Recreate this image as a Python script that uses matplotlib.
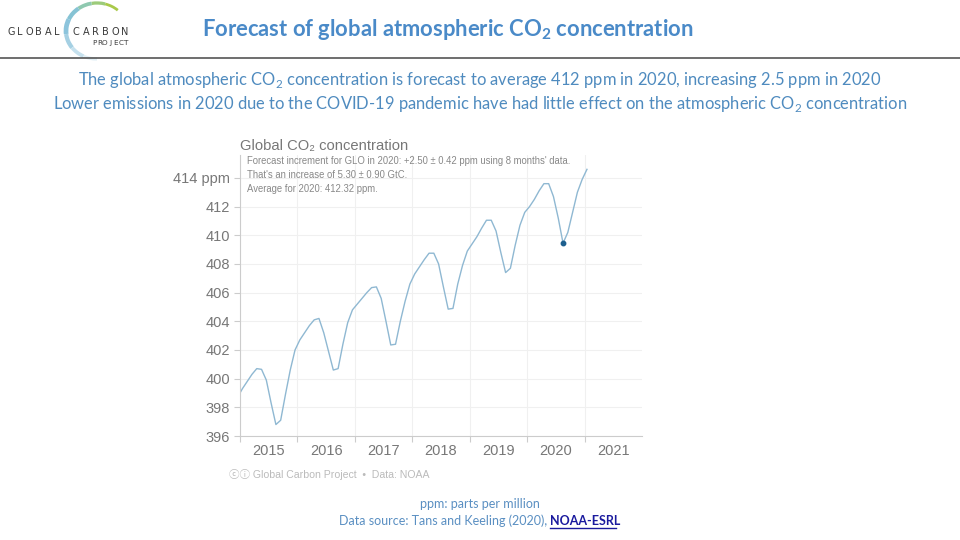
import numpy as np
import matplotlib
matplotlib.use('Agg')
import matplotlib.pyplot as plt
from matplotlib.patches import Arc

plt.rcParams['mathtext.fontset'] = 'custom'
plt.rcParams['mathtext.rm'] = 'Lato'
plt.rcParams['mathtext.bf'] = 'Lato:bold'

# monthly global CO2 (ppm), Dec 2014 .. Jan 2021 (mid-month)
co2_2014 = [398.7]
co2_2015 = [399.3, 399.8, 400.3, 400.7, 400.65, 399.9, 398.3, 396.8, 397.1, 398.9, 400.6, 402.0]
co2_2016 = [402.7, 403.2, 403.7, 404.1, 404.2, 403.2, 401.9, 400.6, 400.7, 402.4, 403.9, 404.8]
co2_2017 = [405.2, 405.6, 406.0, 406.35, 406.4, 405.6, 404.0, 402.35, 402.4, 404.0, 405.4, 406.6]
co2_2018 = [407.3, 407.8, 408.3, 408.75, 408.75, 408.0, 406.4, 404.85, 404.9, 406.6, 407.9, 408.9]
co2_2019 = [409.4, 409.9, 410.5, 411.05, 411.05, 410.3, 408.8, 407.4, 407.7, 409.3, 410.7, 411.6]
co2_2020 = [412.0, 412.5, 413.1, 413.6, 413.6, 412.7, 411.2, 409.45, 410.2, 411.6, 413.0, 413.9]
co2_2021 = [414.6]
last_obs = (2020 + 7.5 / 12, 409.45)

years = [2015, 2016, 2017, 2018, 2019, 2020, 2021]
yticks = [396, 398, 400, 402, 404, 406, 408, 410, 412, 414]

co2 = co2_2014 + co2_2015 + co2_2016 + co2_2017 + co2_2018 + co2_2019 + co2_2020 + co2_2021
t = 2014 + 11.5 / 12 + np.arange(len(co2)) / 12

fig = plt.figure(figsize=(9.6, 5.4), dpi=100)

# slide layer in pixel coordinates
bg = fig.add_axes([0, 0, 1, 1])
bg.set_xlim(0, 960)
bg.set_ylim(540, 0)
bg.axis('off')

# logo
cols = ['#a9c94a', '#9ccb7a', '#8fc9b0', '#86c3d4', '#8cc4dc', '#a5d0e3', '#c6e1ee', '#e3f0f6']
angs = np.linspace(45, 270, len(cols) + 1)
for i, c in enumerate(cols):
    lw = 3.4 - abs(i - 4) * 0.35
    bg.add_patch(Arc((97, 31), 62, 56, theta1=-angs[i + 1], theta2=-angs[i], color=c, lw=lw))


def spaced(word, x0, x1, y, size):
    step = (x1 - x0) / (len(word) - 1)
    for k, ch in enumerate(word):
        bg.text(x0 + k * step, y, ch, fontsize=size, color='#3a3a3a', ha='center', va='center',
                family='DejaVu Sans')


spaced('GLOBAL', 11, 57, 32, 7.0)
spaced('CARBON', 76, 125, 32, 7.0)
spaced('PROJECT', 94, 126, 43, 5.2)

bg.text(448, 29, r'Forecast of global atmospheric CO$_\mathbf{2}$ concentration', fontsize=15.8,
        color='#4a8ac8', fontweight='bold', ha='center', va='center', family='Lato')
bg.plot([0, 960], [57.5, 57.5], color='#555555', lw=1.2)

sub_col = '#4f8bbf'
bg.text(480, 80, r'The global atmospheric CO$_2$ concentration is forecast to average 412 ppm in 2020, increasing 2.5 ppm in 2020',
        fontsize=11.9, color=sub_col, ha='center', va='center', family='Lato')
bg.text(480, 104, r'Lower emissions in 2020 due to the COVID-19 pandemic have had little effect on the atmospheric CO$_2$ concentration',
        fontsize=11.9, color=sub_col, ha='center', va='center', family='Lato')

bg.text(480, 504, 'ppm: parts per million', fontsize=9, color='#5a8fc2', ha='center', va='center', family='Lato')
src = bg.text(339, 521, 'Data source: Tans and Keeling (2020), ', fontsize=9, color='#5a8fc2',
              ha='left', va='center', family='Lato')
fig.canvas.draw()
bb = src.get_window_extent()
x_end = bb.x1
bg.text(x_end, 521, 'NOAA-ESRL', fontsize=9, color='#1a1a9e', fontweight='bold',
        ha='left', va='center', family='Lato')
bg.plot([x_end, x_end + 66], [527.5, 527.5], color='#1a1a9e', lw=1)

# chart
chart_font = ['Liberation Sans', 'DejaVu Sans', 'Noto Sans CJK JP']
ax = fig.add_axes([240 / 960, 1 - 436 / 540, 402 / 960, 281 / 540])
ax.plot(t, co2, color='#8fb8d2', lw=1.0, clip_on=True)
ax.plot(*last_obs, 'o', color='#1d5f8e', ms=3.2)
ax.set_xlim(2015, 2022)
ax.set_ylim(396, 415.6)

ax.set_xticks(years)
ax.set_xticklabels([])
ax.set_xticks([y + 0.5 for y in years], minor=True)
ax.set_xticklabels([str(y) for y in years], minor=True, fontsize=10.5, color='#777777', family=chart_font)
ax.tick_params(axis='x', which='minor', length=0, pad=6)
ax.tick_params(axis='x', which='major', length=4, color='#cccccc')
ax.set_yticks(yticks)
ax.set_yticklabels([str(v) if v != 414 else '414 ppm' for v in yticks], fontsize=10.5,
                   color='#777777', family=chart_font)
ax.tick_params(axis='y', length=4, color='#cccccc', pad=3)
ax.grid(True, which='major', color='#f0f0f0', lw=0.8)
for s in ['top', 'right']:
    ax.spines[s].set_visible(False)
ax.spines['left'].set_color('#cccccc')
ax.spines['bottom'].set_color('#cccccc')

fig.text(240 / 960, 1 - 146 / 540, 'Global CO₂ concentration', fontsize=10.6, color='#777777',
         va='center', family=chart_font)
notes = ["Forecast increment for GLO in 2020: +2.50 ± 0.42 ppm using 8 months' data.",
         "That's an increase of 5.30 ± 0.90 GtC.",
         "Average for 2020: 412.32 ppm."]
for i, n in enumerate(notes):
    fig.text(247 / 960, 1 - (161 + 14 * i) / 540, n, fontsize=6.85, color='#888888', va='center', family=chart_font)
fig.text(229 / 960, 1 - 474 / 540, '\u24d2\u24d8 Global Carbon Project  \u2022  Data: NOAA', fontsize=7.6,
         color='#bbbbbb', va='center', family=chart_font)

fig.savefig('out.png', dpi=100)
